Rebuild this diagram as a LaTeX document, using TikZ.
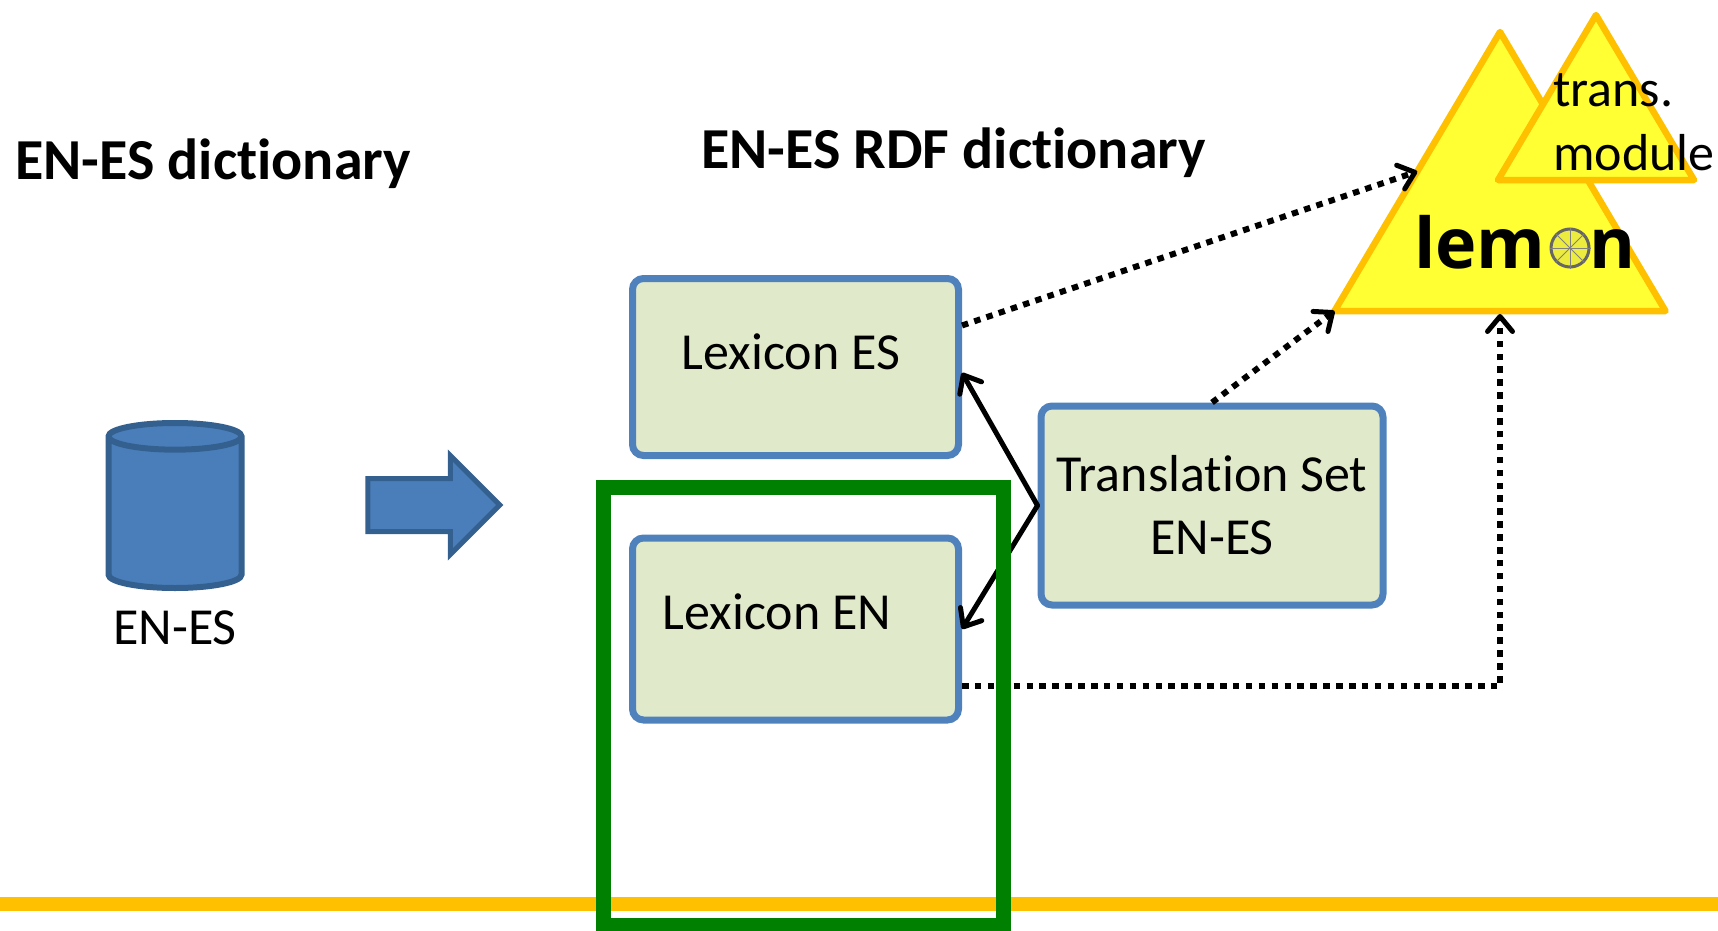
\documentclass[tikz,border=0pt]{standalone}
\usepackage{fontspec}
\setmainfont[Ligatures=NoCommon]{Carlito}
\newfontfamily\lemonfont{Open Sans}
\usetikzlibrary{shapes.geometric,shapes.arrows,arrows.meta}
\definecolor{boxfill}{HTML}{E1E9CB}
\definecolor{boxline}{HTML}{4F81BD}
\definecolor{dbfill}{HTML}{4A7EBB}
\definecolor{dbline}{HTML}{34608F}
\definecolor{lemonfill}{HTML}{FFFF33}
\definecolor{lemonline}{HTML}{FFC000}
\definecolor{framegreen}{HTML}{008000}
\tikzset{
  lexbox/.style={draw=boxline, fill=boxfill, line width=7pt, rounded corners=11pt, minimum width=326pt, minimum height=177pt, align=center, font=\fontsize{52}{63}\selectfont},
  lemontri/.style={isosceles triangle, isosceles triangle stretches, shape border rotate=90, draw=lemonline, fill=lemonfill, line width=6.5pt, line join=round, outer sep=0pt, inner sep=0pt, anchor=apex},
  title/.style={font=\bfseries\fontsize{58}{68}\selectfont, anchor=base west, inner sep=0pt},
  linktext/.style={font=\fontsize{52}{63}\selectfont, anchor=base west, inner sep=0pt},
  solidlink/.style={line width=5pt, line cap=round, -{Straight Barb[length=15pt,width=25pt,round]}},
  dotlink/.style={line width=6pt, dash pattern=on 6.5pt off 6.4pt, -{Straight Barb[length=15pt,width=25pt,round,line width=5pt]}}
}
\begin{document}
\begin{tikzpicture}[x=1pt, y=-1pt]
\useasboundingbox (0,0) rectangle (1718,931);
\node[title] (t1) at (15,179) {EN-ES dictionary};
\node[title] (t2) at (701,168) {EN-ES RDF dictionary};

\node[cylinder, shape border rotate=90, shape aspect=4, draw=dbline, fill=dbfill, line width=6pt, minimum width=133pt, minimum height=165pt, anchor=shape center] (db) at (175,505.5) {};
\node[font=\fontsize{52}{63}\selectfont, anchor=base, inner sep=0pt] (dbtext) at (175,644) {EN-ES};
\node[single arrow, single arrow head extend=23pt, draw=dbline, fill=dbfill, line width=5pt, minimum height=132pt, inner ysep=24pt, inner xsep=0pt] (conv) at (420.5,505) {};

\node[lexbox] (lexes) at (795.5,367) {\hspace*{-9pt}Lexicon ES\\[-32pt]~};
\node[lexbox, minimum height=182pt] (lexen) at (795.5,629) {\hspace*{-37pt}Lexicon EN\\[-28pt]~};
\node[lexbox, minimum width=342pt, minimum height=199pt] (trans) at (1212,505.5) {Translation Set\\EN-ES};

\node[lemontri, minimum width=331pt, minimum height=279pt] (lem) at (1500,32) {};
\node[lemontri, minimum width=196pt, minimum height=165pt] (mod) at (1596,15) {};
\node[font=\lemonfont\bfseries\fontsize{70}{80}\selectfont, anchor=base west, inner sep=0pt] (lemtext) at (1414,268) {lem\textcolor{lemonfill}{o}n};
\node[circle, draw=gray!80!black, fill=lemonfill!85!gray, line width=3pt, minimum size=38pt, inner sep=0pt] (slice) at (1570,248) {};
\foreach \spoke in {0,45,...,315}
  \draw[gray, line width=1pt] (slice.center) -- (slice.\spoke);
\node[linktext] (modtext1) at (1553,107) {trans.};
\node[linktext] (modtext2) at (1553,170) {module};

\draw[solidlink] (trans.west) -- (lexes.-2);
\draw[solidlink] (trans.west) -- (lexen.east);
\draw[dotlink] (lexes.14.5) -- (lem.left side);
\draw[dotlink] (trans.north) -- (lem.left corner);
\draw[dotlink, shorten >=3pt] (lexen.-19.6) -| (lem.lower side);

\fill[lemonline] (0,897) rectangle (1718,911);
\node[draw=framegreen, line width=15pt, minimum width=400.5pt, minimum height=438pt, inner sep=0pt] (frame) at (803.25,706) {};
\end{tikzpicture}
\end{document}
